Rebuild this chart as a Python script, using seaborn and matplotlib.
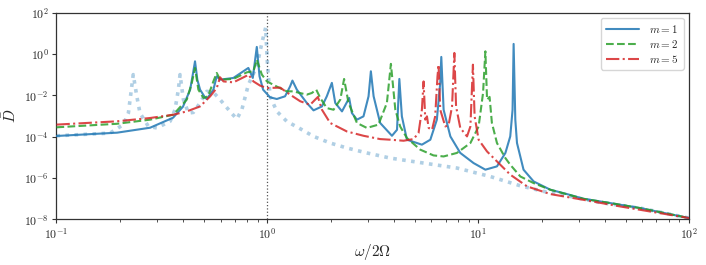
import numpy as np
import pandas as pd
import matplotlib
matplotlib.use("Agg")
import matplotlib.pyplot as plt
import seaborn as sns
from matplotlib.ticker import FuncFormatter, LogLocator, NullFormatter

# values, stored as log10 exponents
lw_m1 = [-1.0, -0.713, -0.556, -0.447, -0.400, -0.366, -0.352, -0.343, -0.332, -0.319,
         -0.295, -0.287, -0.256, -0.240, -0.224, -0.161, -0.090, -0.069, -0.050, -0.037,
         -0.020, 0.013, 0.045, 0.084, 0.108, 0.119, 0.140, 0.187, 0.219, 0.259,
         0.282, 0.306, 0.322, 0.354, 0.388, 0.401, 0.425, 0.456, 0.480, 0.491,
         0.504, 0.535, 0.591, 0.615, 0.626, 0.638, 0.662, 0.733, 0.773, 0.804,
         0.820, 0.825, 0.836, 0.868, 0.915, 0.978, 1.034, 1.089, 1.129, 1.152,
         1.163, 1.168, 1.176, 1.184, 1.215, 1.263, 1.342, 1.421, 1.500, 1.611,
         1.769, 2.0]
lD_m1 = [-3.97, -3.81, -3.57, -3.085, -2.55, -1.73, -0.906, -0.358, -1.245, -1.73,
         -2.116, -2.18, -1.73, -1.085, -1.245, -1.162, -0.678, -1.162, 0.339, -1.085,
         -1.73, -2.10, -2.18, -2.05, -1.57, -1.29, -1.73, -2.37, -2.73, -2.54,
         -2.05, -1.40, -2.37, -2.78, -2.13, -2.86, -3.18, -3.02, -2.05, -0.84,
         -2.05, -3.34, -3.96, -3.67, -1.21, -3.02, -4.15, -4.39, -4.15, -3.18,
         -1.40, -0.145, -2.70, -3.99, -4.79, -5.28, -5.60, -5.44, -4.79, -3.99,
         -2.70, 0.484, -3.18, -4.31, -5.60, -6.17, -6.57, -6.78, -7.01, -7.19,
         -7.46, -7.94]

lw_m2 = [-1.0, -0.714, -0.556, -0.446, -0.382, -0.358, -0.343, -0.327, -0.303, -0.281,
         -0.256, -0.240, -0.224, -0.161, -0.097, -0.066, -0.050, -0.026, -0.002, 0.045,
         0.092, 0.122, 0.187, 0.211, 0.232, 0.251, 0.282, 0.314, 0.346, 0.364,
         0.385, 0.425, 0.472, 0.527, 0.567, 0.586, 0.607, 0.630, 0.662, 0.725,
         0.788, 0.836, 0.899, 0.963, 1.002, 1.023, 1.034, 1.042, 1.054, 1.065,
         1.089, 1.129, 1.152, 1.200, 1.263, 1.342, 1.500, 1.611, 1.769, 2.0]
lD_m2 = [-3.55, -3.38, -3.18, -2.94, -2.21, -1.39, -0.68, -1.73, -2.13, -2.05,
         -1.33, -0.92, -1.245, -1.21, -0.89, -0.84, -0.28, -1.00, -1.33, -1.58,
         -1.81, -1.81, -1.97, -1.89, -1.73, -2.13, -2.62, -2.70, -2.21, -1.21,
         -2.37, -3.34, -3.58, -3.42, -2.37, -0.48, -2.70, -3.51, -4.07, -4.63,
         -4.91, -4.96, -4.79, -4.31, -3.51, -1.89, 0.126, -2.21, -2.08, -3.34,
         -4.31, -5.04, -5.36, -5.93, -6.25, -6.57, -7.01, -7.19, -7.46, -7.94]

lw_m5 = [-1.0, -0.714, -0.556, -0.446, -0.382, -0.319, -0.271, -0.240, -0.224, -0.208,
         -0.161, -0.097, -0.090, -0.066, -0.034, -0.002, 0.061, 0.108, 0.156, 0.203,
         0.227, 0.240, 0.259, 0.298, 0.377, 0.456, 0.535, 0.583, 0.646, 0.693,
         0.717, 0.733, 0.741, 0.749, 0.757, 0.765, 0.781, 0.796, 0.807, 0.812,
         0.820, 0.844, 0.860, 0.876, 0.887, 0.895, 0.915, 0.947, 0.963, 0.975,
         0.983, 1.002, 1.042, 1.089, 1.152, 1.232, 1.342, 1.500, 1.674, 2.0]
lD_m5 = [-3.42, -3.26, -3.10, -2.94, -2.78, -2.54, -2.05, -1.65, -1.13, -1.33,
         -1.375, -1.05, -1.00, -1.33, -1.535, -1.65, -1.63, -1.97, -2.29, -2.46,
         -2.21, -2.08, -2.70, -3.34, -3.75, -3.96, -4.12, -4.15, -4.20, -4.12,
         -3.83, -2.70, -1.33, -3.18, -3.02, -3.58, -3.67, -3.02, -1.085, -0.52,
         -2.70, -3.51, -3.42, -2.54, 0.048, -2.54, -3.58, -3.99, -3.51, -0.52,
         -3.02, -4.15, -4.72, -5.20, -5.84, -6.41, -6.78, -7.06, -7.38, -7.94]

lw_ref = [-1.0, -0.746, -0.683, -0.659, -0.643, -0.636, -0.619, -0.604, -0.564, -0.524,
          -0.461, -0.438, -0.422, -0.414, -0.398, -0.374, -0.351, -0.319, -0.287, -0.256,
          -0.224, -0.177, -0.145, -0.121, -0.090, -0.050, -0.026, -0.008, 0.001, 0.013,
          0.045, 0.092, 0.156, 0.219, 0.298, 0.377, 0.472, 0.583, 0.741, 0.899,
          1.057, 1.200, 1.310, 1.421, 1.579, 1.769, 2.0]
lD_ref = [-3.96, -3.83, -3.42, -2.86, -1.57, -1.00, -2.05, -2.86, -3.51, -3.58,
          -3.26, -2.70, -1.73, -1.00, -2.21, -2.86, -2.83, -2.37, -1.81, -1.86,
          -2.21, -2.78, -3.15, -2.70, -1.49, -0.60, 0.53, 1.27, -0.60, -2.05,
          -2.78, -3.26, -3.62, -3.99, -4.31, -4.55, -4.79, -5.04, -5.28, -5.52,
          -5.93, -6.38, -6.65, -6.86, -7.19, -7.46, -7.94]

sns.set_style("ticks")
plt.rcParams["mathtext.fontset"] = "cm"
plt.rcParams["font.family"] = ["DejaVu Serif"]

fig = plt.figure(figsize=(7.06, 2.65), dpi=100)
ax = fig.add_axes([0.080, 0.1725, 0.896, 0.780])

ax.axvline(1.0, color="#555555", lw=0.9, ls=":", zorder=1)

sns.lineplot(x=np.power(10.0, lw_ref), y=np.power(10.0, lD_ref), ax=ax, color="#1f77b4",
             alpha=0.35, lw=2.6, ls=(0, (1, 1.5)),
             estimator=None, sort=False, zorder=2)
sns.lineplot(x=np.power(10.0, lw_m1), y=np.power(10.0, lD_m1), ax=ax, color="#1f77b4",
             alpha=0.85, lw=1.5, ls="-", label=r"$m = 1$", estimator=None, sort=False, zorder=3)
sns.lineplot(x=np.power(10.0, lw_m2), y=np.power(10.0, lD_m2), ax=ax, color="#2ca02c",
             alpha=0.85, lw=1.5, ls="--", label=r"$m = 2$", estimator=None, sort=False, zorder=3)
sns.lineplot(x=np.power(10.0, lw_m5), y=np.power(10.0, lD_m5), ax=ax, color="#d62728",
             alpha=0.85, lw=1.5, ls="-.", label=r"$m = 5$", estimator=None, sort=False, zorder=3)

ax.set_xscale("log")
ax.set_yscale("log")
ax.set_xlim(0.1, 100)
ax.set_ylim(1e-8, 1e2)
ax.yaxis.set_major_locator(LogLocator(base=100.0, numticks=10))
ax.yaxis.set_minor_locator(LogLocator(base=10.0, subs=[], numticks=10))
fmt = FuncFormatter(lambda v, p: r"$10^{%d}$" % int(round(np.log10(v))))
ax.xaxis.set_major_formatter(fmt)
ax.yaxis.set_major_formatter(fmt)
ax.xaxis.set_minor_formatter(NullFormatter())
ax.yaxis.set_minor_formatter(NullFormatter())
ax.tick_params(axis="both", which="major", labelsize=8.5, length=3, width=0.8,
               color="#333333", pad=2.5)
ax.tick_params(axis="x", which="minor", length=2, width=0.6, color="#333333")
ax.tick_params(axis="y", which="minor", length=0)

for s in ax.spines.values():
    s.set_visible(True)
    s.set_color("#333333")
    s.set_linewidth(0.9)

ax.set_xlabel(r"$\omega/2\Omega$", fontsize=11, labelpad=0)
ax.set_ylabel(r"$\bar{D}$", fontsize=11, labelpad=4)

leg = ax.legend(loc="upper right", fontsize=8, handlelength=3.0, frameon=True,
                fancybox=True, borderpad=0.45, labelspacing=0.25, handletextpad=0.9)
leg.get_frame().set_edgecolor("#cccccc")

fig.savefig("out.png", dpi=100)
